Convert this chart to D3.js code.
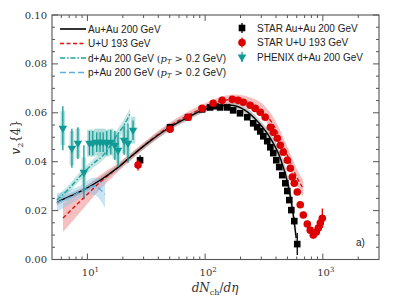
<!DOCTYPE html>
<html>
<head>
<meta charset="utf-8">
<script src="https://cdn.jsdelivr.net/npm/d3@7"></script>
<style>
  body { margin: 0; background: #fff; }
  svg { display: block; }
  .tick text { font-family: "DejaVu Serif", serif; font-size: 10px; fill: #333; }
  .leg { font-family: "Liberation Sans", sans-serif; font-size: 10px; fill: #222; }
</style>
</head>
<body>
<svg width="399" height="299"></svg>
<script>
const svg = d3.select('svg');
const pLeft = 52, pRight = 379, pTop = 15, pBottom = 259.5;

// --- data ---
// STAR Au+Au 200 GeV (black squares)
const auX = [28, 50.3, 71.6, 94.2, 110, 122, 134, 154, 173, 198, 228, 256, 277, 294, 312, 337, 358, 379, 402, 426, 452, 480, 499, 519, 540, 572, 606];
const auY = [0.0406, 0.0541, 0.0582, 0.0614, 0.0622, 0.0627, 0.0622, 0.0622, 0.0610, 0.0598, 0.0582, 0.0557, 0.0541, 0.0524, 0.0504, 0.0484, 0.0459, 0.0435, 0.0406, 0.0378, 0.0345, 0.0312, 0.0280, 0.0243, 0.0202, 0.0157, 0.0063];
const auErr = [0.002, 0.0008, 0.0008, 0.0008, 0.0008, 0.0008, 0.0008, 0.0008, 0.0008, 0.0008, 0.0008, 0.0008, 0.0008, 0.0008, 0.0008, 0.0008, 0.0008, 0.0008, 0.0008, 0.0008, 0.0008, 0.001, 0.001, 0.001, 0.0012, 0.0015, 0.0045];

// STAR U+U 193 GeV (red circles)
const uuX = [26.9, 50.3, 71.6, 94.2, 117, 139.5, 170, 191, 211, 241, 266, 294, 324, 358, 379, 410, 435, 461, 499, 529, 550, 572, 606, 643, 682, 738, 782, 830, 880, 915, 952, 990];
const uuY = [0.0386, 0.0533, 0.0582, 0.0618, 0.0639, 0.0651, 0.0655, 0.0651, 0.0643, 0.0631, 0.0618, 0.0602, 0.0582, 0.0541, 0.0520, 0.0496, 0.0467, 0.0439, 0.0406, 0.0373, 0.0337, 0.0312, 0.0276, 0.0224, 0.0182, 0.0145, 0.0120, 0.0100, 0.0112, 0.0129, 0.0149, 0.0169];
const uuErr = [0.0022, 0.0008, 0.0008, 0.0008, 0.0008, 0.0008, 0.0008, 0.0008, 0.0008, 0.0008, 0.0008, 0.0008, 0.0008, 0.0008, 0.0008, 0.0008, 0.0008, 0.0008, 0.0008, 0.0008, 0.0008, 0.0008, 0.0008, 0.001, 0.001, 0.0012, 0.0012, 0.0015, 0.0015, 0.002, 0.0025, 0.004];

// PHENIX d+Au 200 GeV (teal down triangles)
const phX = [6.18, 7.38, 8.3, 9.33, 10.4, 11.1, 12.0, 12.8, 13.6, 14.6, 15.8, 17.1, 18.2, 20.5, 22.1, 24.4];
const phY = [0.0537, 0.0455, 0.0476, 0.0357, 0.0476, 0.0476, 0.0480, 0.0480, 0.0480, 0.0476, 0.0480, 0.0467, 0.0447, 0.0488, 0.0476, 0.0529];
const phStat = [0.009, 0.008, 0.0065, 0.011, 0.005, 0.005, 0.004, 0.004, 0.004, 0.005, 0.005, 0.006, 0.007, 0.006, 0.008, 0.004];
const phSys = [0.007, 0.007, 0.006, 0.006, 0.0055, 0.0055, 0.0055, 0.0055, 0.0055, 0.0055, 0.0055, 0.0055, 0.0055, 0.0055, 0.0055, 0.0055];

// theory curves
const thAuX = [5.5, 7.1, 9.2, 12.8, 17.8, 23, 34, 50, 71.6, 94, 122, 163, 219, 283, 358, 435, 508, 561, 594];
const thAuY = [0.0233, 0.0259, 0.0284, 0.0324, 0.0373, 0.0418, 0.0484, 0.0541, 0.0582, 0.0610, 0.0627, 0.0631, 0.0610, 0.0561, 0.0496, 0.0414, 0.0304, 0.0182, 0.0088];
const thAuE = [0.0012, 0.0012, 0.0012, 0.0012, 0.0012, 0.0012, 0.0012, 0.0012, 0.0012, 0.0012, 0.0012, 0.0012, 0.0014, 0.0016, 0.002, 0.0025, 0.003, 0.0035, 0.004];

const thUUX = [6.2, 9.2, 12.8, 17.8, 23, 50, 74.5, 100, 134, 180, 242, 305, 394, 499, 606, 682];
const thUUY = [0.017, 0.025, 0.0316, 0.0373, 0.0418, 0.0545, 0.0594, 0.0622, 0.0647, 0.0655, 0.0639, 0.0610, 0.0537, 0.0427, 0.0333, 0.029];
const thUUE = [0.0058, 0.0042, 0.003, 0.0018, 0.0015, 0.0015, 0.0015, 0.0017, 0.0018, 0.002, 0.0024, 0.0028, 0.0032, 0.0034, 0.0034, 0.0034];

const thDAX = [5.5, 6.9, 9.0, 11.3, 14.1, 17.2, 20.3, 23];
const thDAY = [0.0243, 0.0288, 0.0349, 0.0394, 0.0434, 0.0498, 0.0547, 0.0594];
const thDAE = [0.0016, 0.0016, 0.0018, 0.0018, 0.002, 0.0022, 0.0024, 0.0026];

const thPAX = [5.5, 7.1, 9.2, 11.3, 14.1];
const thPAY = [0.0233, 0.0255, 0.0284, 0.0300, 0.0267];
const thPAE = [0.0038, 0.003, 0.0025, 0.0035, 0.0055];

const yTicks = [0, 0.02, 0.04, 0.06, 0.08, 0.10];
const xTicks = [10, 100, 1000];

// --- scales ---
const x = d3.scaleLog().domain([5, 3000]).range([pLeft, pRight]);
const y = d3.scaleLinear().domain([0, 0.1]).range([pBottom, pTop]);

const zip = (xs, ys, es) => xs.map((v, i) => ({x: v, y: ys[i], e: es ? es[i] : 0}));

const g = svg.append('g');
g.append('defs').append('clipPath').attr('id', 'clip')
  .append('rect').attr('x', pLeft).attr('y', pTop).attr('width', pRight - pLeft).attr('height', pBottom - pTop);
const plot = g.append('g').attr('clip-path', 'url(#clip)');

const area = d3.area().x(d => x(d.x)).y0(d => y(d.y - d.e)).y1(d => y(d.y + d.e)).curve(d3.curveMonotoneX);
const line = d3.line().x(d => x(d.x)).y(d => y(d.y)).curve(d3.curveMonotoneX);

// bands
plot.append('path').datum(zip(thUUX, thUUY, thUUE)).attr('d', area).attr('fill', '#e8595a').attr('opacity', 0.38);
plot.append('path').datum(zip(thAuX, thAuY, thAuE)).attr('d', area).attr('fill', '#888').attr('opacity', 0.45);
plot.append('path').datum(zip(thPAX, thPAY, thPAE)).attr('d', area).attr('fill', '#8cc3e6').attr('opacity', 0.45);
plot.append('path').datum(zip(thDAX, thDAY, thDAE)).attr('d', area).attr('fill', '#3bb0a8').attr('opacity', 0.3);

// PHENIX systematic boxes
const ph = zip(phX, phY, phStat).map((d, i) => ({...d, s: phSys[i]}));
plot.selectAll('rect.sys').data(ph).join('rect')
  .attr('x', d => x(d.x) - 2.3).attr('width', 4.6)
  .attr('y', d => y(d.y + d.s)).attr('height', d => y(d.y - d.s) - y(d.y + d.s))
  .attr('fill', '#9fd6d2').attr('opacity', 0.75);

// theory lines
plot.append('path').datum(zip(thUUX, thUUY)).attr('d', line).attr('fill', 'none')
  .attr('stroke', '#e01010').attr('stroke-width', 1.4).attr('stroke-dasharray', '4,2.5');
plot.append('path').datum(zip(thAuX, thAuY)).attr('d', line).attr('fill', 'none')
  .attr('stroke', '#000').attr('stroke-width', 1.4);
plot.append('path').datum(zip(thPAX, thPAY)).attr('d', line).attr('fill', 'none')
  .attr('stroke', '#5aaee0').attr('stroke-width', 1.3).attr('stroke-dasharray', '6,3');
plot.append('path').datum(zip(thDAX, thDAY)).attr('d', line).attr('fill', 'none')
  .attr('stroke', '#1fa39a').attr('stroke-width', 1.4).attr('stroke-dasharray', '5,2,1.5,2');

// PHENIX stat bars + triangles
const teal = '#109a95';
plot.selectAll('line.ph').data(ph).join('line')
  .attr('x1', d => x(d.x)).attr('x2', d => x(d.x))
  .attr('y1', d => y(d.y + d.e)).attr('y2', d => y(d.y - d.e))
  .attr('stroke', teal).attr('stroke-width', 1.3);
const tri = d3.symbol().type(d3.symbolTriangle).size(32);
plot.selectAll('path.ph').data(ph).join('path')
  .attr('d', tri).attr('transform', d => `translate(${x(d.x)},${y(d.y)}) rotate(180)`)
  .attr('fill', teal);

// STAR Au+Au
const au = zip(auX, auY, auErr);
plot.selectAll('line.au').data(au).join('line')
  .attr('x1', d => x(d.x)).attr('x2', d => x(d.x))
  .attr('y1', d => y(d.y + d.e)).attr('y2', d => y(d.y - d.e))
  .attr('stroke', '#000').attr('stroke-width', 1.3);
plot.selectAll('rect.au').data(au).join('rect')
  .attr('x', d => x(d.x) - 3.3).attr('y', d => y(d.y) - 3.3)
  .attr('width', 6.6).attr('height', 6.6).attr('fill', '#000');

// STAR U+U
const uu = zip(uuX, uuY, uuErr);
plot.selectAll('line.uu').data(uu).join('line')
  .attr('x1', d => x(d.x)).attr('x2', d => x(d.x))
  .attr('y1', d => y(d.y + d.e)).attr('y2', d => y(d.y - d.e))
  .attr('stroke', '#dd0000').attr('stroke-width', 1.3);
plot.selectAll('circle.uu').data(uu).join('circle')
  .attr('cx', d => x(d.x)).attr('cy', d => y(d.y)).attr('r', 3.8).attr('fill', '#dd0000');

// --- axes ---
const axCol = '#555';
const minorX = [];
[1, 10, 100, 1000].forEach(dec => { for (let k = 2; k <= 9; k++) { const v = k * dec; if (v > 5 && v < 3000) minorX.push(v); } });
const minorY = d3.range(0, 0.1001, 0.005).filter(v => !yTicks.some(t => Math.abs(t - v) < 1e-9));

const ax = g.append('g').attr('stroke', axCol).attr('stroke-width', 1);
xTicks.forEach(v => {
  ax.append('line').attr('x1', x(v)).attr('x2', x(v)).attr('y1', pBottom).attr('y2', pBottom - 6);
  ax.append('line').attr('x1', x(v)).attr('x2', x(v)).attr('y1', pTop).attr('y2', pTop + 6);
});
minorX.forEach(v => {
  ax.append('line').attr('x1', x(v)).attr('x2', x(v)).attr('y1', pBottom).attr('y2', pBottom - 3);
  ax.append('line').attr('x1', x(v)).attr('x2', x(v)).attr('y1', pTop).attr('y2', pTop + 3);
});
yTicks.forEach(v => {
  ax.append('line').attr('x1', pLeft).attr('x2', pLeft + 6).attr('y1', y(v)).attr('y2', y(v));
  ax.append('line').attr('x1', pRight).attr('x2', pRight - 6).attr('y1', y(v)).attr('y2', y(v));
});
minorY.forEach(v => {
  ax.append('line').attr('x1', pLeft).attr('x2', pLeft + 3).attr('y1', y(v)).attr('y2', y(v));
  ax.append('line').attr('x1', pRight).attr('x2', pRight - 3).attr('y1', y(v)).attr('y2', y(v));
});
g.append('rect').attr('x', pLeft).attr('y', pTop).attr('width', pRight - pLeft).attr('height', pBottom - pTop)
  .attr('fill', 'none').attr('stroke', axCol).attr('stroke-width', 1.1);

const tl = g.append('g').attr('class', 'tick');
yTicks.forEach(v => {
  tl.append('text').attr('x', pLeft - 5).attr('y', y(v)).attr('dy', '0.35em')
    .attr('text-anchor', 'end').text(d3.format('.2f')(v));
});
xTicks.forEach(v => {
  const t = tl.append('text').attr('x', x(v) + 3).attr('y', 276).attr('text-anchor', 'middle');
  t.append('tspan').text('10');
  t.append('tspan').attr('dy', -4).attr('font-size', '7px').text(Math.round(Math.log10(v)));
});

// axis labels
const serif = '"DejaVu Serif", serif';
const xl = g.append('text').attr('x', 215).attr('y', 292).attr('text-anchor', 'middle')
  .attr('font-family', serif).attr('font-size', 12).attr('fill', '#333');
xl.append('tspan').attr('font-style', 'italic').text('dN');
xl.append('tspan').attr('font-size', 8).attr('dy', 2.5).text('ch');
xl.append('tspan').attr('dy', -2.5).text('/');
xl.append('tspan').attr('font-style', 'italic').text('dη');

const yl = g.append('text').attr('transform', `translate(20,${(pTop + pBottom) / 2}) rotate(-90)`)
  .attr('text-anchor', 'middle').attr('font-family', serif).attr('font-size', 12).attr('fill', '#333');
yl.append('tspan').attr('font-style', 'italic').text('v');
yl.append('tspan').attr('font-size', 8).attr('dy', 2.5).text('2');
yl.append('tspan').attr('dy', -2.5).text('{4}');

// legends
const legL = [
  {label: 'Au+Au 200 GeV', color: '#000', dash: null, pt: false},
  {label: 'U+U 193 GeV', color: '#e01010', dash: '4,2.5', pt: false},
  {label: 'd+Au 200 GeV ', color: '#1fa39a', dash: '5,2,1.5,2', pt: true},
  {label: 'p+Au 200 GeV ', color: '#5aaee0', dash: '6,3', pt: true}
];
const legLY = [29, 43.5, 58, 72.5];
legL.forEach((d, i) => {
  g.append('line').attr('x1', 60).attr('x2', 86).attr('y1', legLY[i]).attr('y2', legLY[i])
    .attr('stroke', d.color).attr('stroke-width', 1.6).attr('stroke-dasharray', d.dash);
  const t = g.append('text').attr('class', 'leg').attr('x', 88).attr('y', legLY[i]).attr('dy', '0.35em');
  t.append('tspan').text(d.label);
  if (d.pt) {
    t.append('tspan').attr('font-family', serif).text('(');
    t.append('tspan').attr('font-family', serif).attr('font-style', 'italic').text('p');
    t.append('tspan').attr('font-family', serif).attr('font-style', 'italic').attr('font-size', 6.5).attr('dy', 2).text('T');
    t.append('tspan').attr('font-family', serif).attr('dy', -2).text(' > ');
    t.append('tspan').text('0.2 GeV)');
  }
});

const legR = [
  {label: 'STAR Au+Au 200 GeV', kind: 'sq'},
  {label: 'STAR U+U 193 GeV', kind: 'ci'},
  {label: 'PHENIX d+Au 200 GeV', kind: 'tr'}
];
const legRY = [28, 42.5, 57];
legR.forEach((d, i) => {
  const cx = 242, cy = legRY[i];
  if (d.kind === 'sq') {
    g.append('line').attr('x1', cx).attr('x2', cx).attr('y1', cy - 5).attr('y2', cy + 5).attr('stroke', '#000').attr('stroke-width', 1.3);
    g.append('rect').attr('x', cx - 3.3).attr('y', cy - 3.3).attr('width', 6.6).attr('height', 6.6).attr('fill', '#000');
  } else if (d.kind === 'ci') {
    g.append('line').attr('x1', cx).attr('x2', cx).attr('y1', cy - 5).attr('y2', cy + 5).attr('stroke', '#dd0000').attr('stroke-width', 1.3);
    g.append('circle').attr('cx', cx).attr('cy', cy).attr('r', 3.8).attr('fill', '#dd0000');
  } else {
    g.append('line').attr('x1', cx).attr('x2', cx).attr('y1', cy - 5).attr('y2', cy + 5).attr('stroke', teal).attr('stroke-width', 1.3);
    g.append('path').attr('d', tri).attr('transform', `translate(${cx},${cy}) rotate(180)`).attr('fill', teal);
  }
  g.append('text').attr('class', 'leg').attr('x', 257).attr('y', cy).attr('dy', '0.35em').text(d.label);
});

g.append('text').attr('class', 'leg').attr('x', 356).attr('y', 242).attr('dy', '0.35em').attr('font-size', 10).text('a)');
</script>
</body>
</html>
